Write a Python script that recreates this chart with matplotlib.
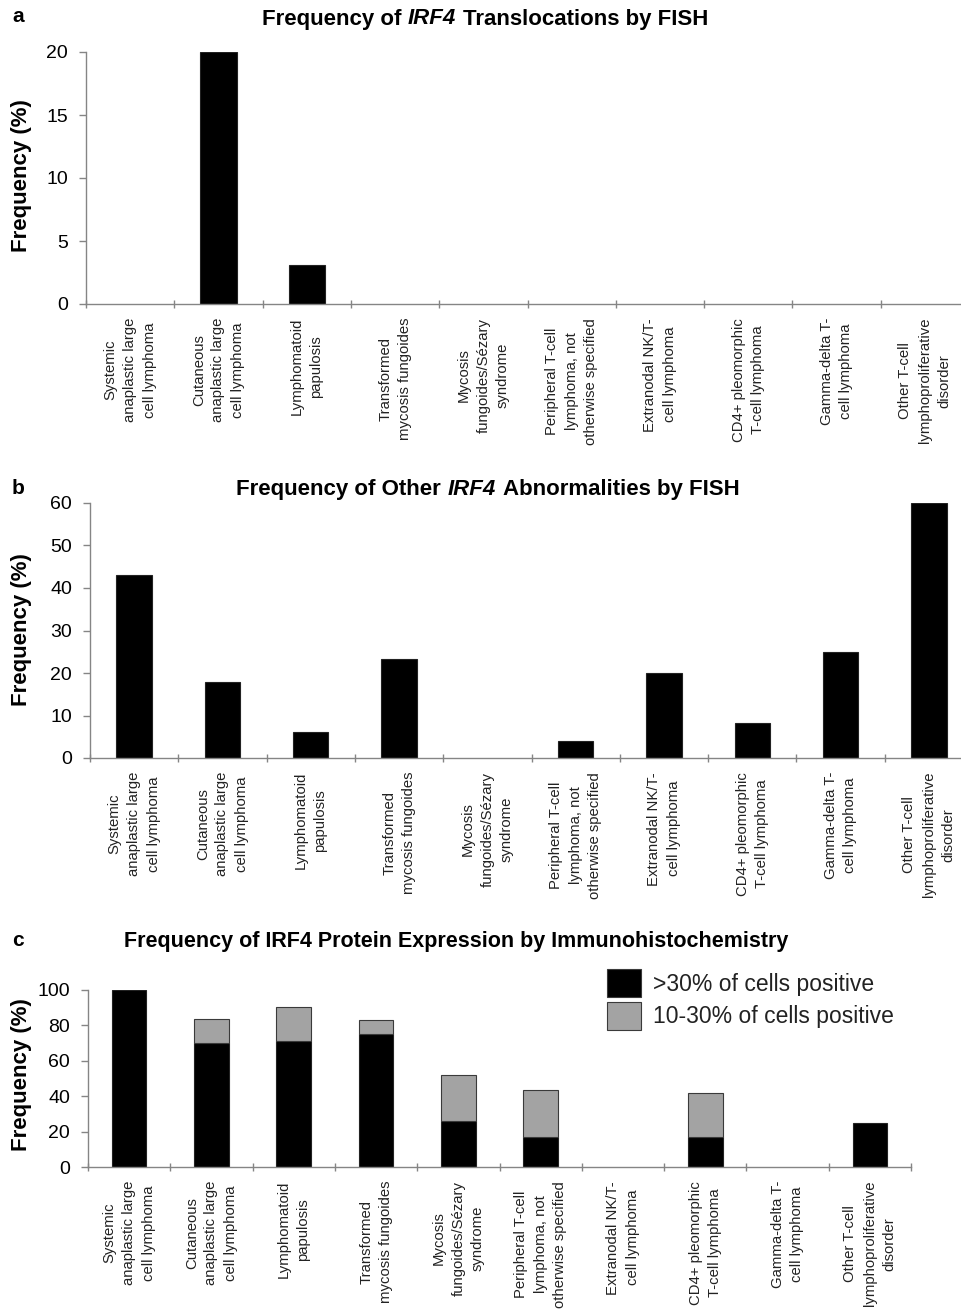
import matplotlib
matplotlib.use("Agg")
import matplotlib.pyplot as plt
from matplotlib import font_manager

# ---------------- data ----------------
categories = [
    "Systemic\nanaplastic large\ncell lymphoma",
    "Cutaneous\nanaplastic large\ncell lymphoma",
    "Lymphomatoid\npapulosis",
    "Transformed\nmycosis fungoides",
    "Mycosis\nfungoides/Sézary\nsyndrome",
    "Peripheral T-cell\nlymphoma, not\notherwise specified",
    "Extranodal NK/T-\ncell lymphoma",
    "CD4+ pleomorphic\nT-cell lymphoma",
    "Gamma-delta T-\ncell lymphoma",
    "Other T-cell\nlymphoproliferative\ndisorder",
]
translocations = [0, 20, 3.1, 0, 0, 0, 0, 0, 0, 0]
other_abnormalities = [43, 17.8, 6.2, 23.2, 0, 4.1, 20, 8.3, 25, 60]
ihc_over30 = [100, 70, 71, 75, 26, 17.2, 0, 16.8, 0, 25]
ihc_10to30 = [0, 13.8, 19.2, 8.2, 26, 26.2, 0, 24.9, 0, 0]
legend_labels = [">30% of cells positive", "10-30% of cells positive"]
yticks_a = [0, 5, 10, 15, 20]
yticks_b = [0, 10, 20, 30, 40, 50, 60]
yticks_c = [0, 20, 40, 60, 80, 100]

# ---------------- style ----------------
names = {f.name for f in font_manager.fontManager.ttflist}
FONT = "Liberation Sans" if "Liberation Sans" in names else "DejaVu Sans"
plt.rcParams["font.family"] = [FONT, "DejaVu Sans"]

W, H = 961, 1312
fig = plt.figure(figsize=(W / 100, H / 100), dpi=100)
fig.patch.set_facecolor("white")
AXC = "#858585"


def fx(px):
    return px / W


def fy(py):
    return 1 - py / H


def make_axes(left, right, top, bottom):
    return fig.add_axes([fx(left), fy(bottom), fx(right) - fx(left), fy(top) - fy(bottom)])


def style_axes(ax, ymax, yticks):
    ax.set_xlim(-0.5, 9.5)
    ax.set_ylim(0, ymax)
    for s in ["top", "right"]:
        ax.spines[s].set_visible(False)
    for s in ["left", "bottom"]:
        ax.spines[s].set_color(AXC)
        ax.spines[s].set_linewidth(1.0)
    ax.set_yticks(yticks)
    ax.tick_params(axis="y", direction="out", length=5, width=1, color=AXC,
                   labelsize=14, pad=8)
    ax.set_xticks(range(len(categories)))
    ax.set_xticklabels(categories, rotation=90, ha="center", va="top",
                       multialignment="center", fontsize=10.7, linespacing=1.5,
                       color="#222222")
    ax.tick_params(axis="x", which="major", length=0, pad=10)
    ax.set_xticks([i - 0.5 for i in range(len(categories) + 1)], minor=True)
    ax.tick_params(axis="x", which="minor", direction="inout", length=6,
                   width=1, color=AXC)
    ax.set_facecolor("none")


def edges(vals, color):
    return [color if v > 0 else "none" for v in vals]


# Panel a
axa = make_axes(86, 969, 52, 304)
axa.bar(range(10), translocations, width=0.41, color="black",
        edgecolor=edges(translocations, "#222222"), linewidth=0.8)
style_axes(axa, 20, yticks_a)

# Panel b
axb = make_axes(90, 973, 503, 758)
axb.bar(range(10), other_abnormalities, width=0.40, color="black",
        edgecolor=edges(other_abnormalities, "#222222"), linewidth=0.8)
style_axes(axb, 60, yticks_b)

# Panel c
axc = make_axes(88, 911, 990, 1167)
b1 = axc.bar(range(10), ihc_over30, width=0.42, color="black",
             edgecolor=edges(ihc_over30, "#222222"), linewidth=0.8,
             label=legend_labels[0])
b2 = axc.bar(range(10), ihc_10to30, bottom=ihc_over30, width=0.42,
             color="#a3a3a3", edgecolor=edges(ihc_10to30, "#3a3a3a"),
             linewidth=0.8, label=legend_labels[1])
style_axes(axc, 100, yticks_c)
leg = axc.legend(handles=[b1, b2], labels=legend_labels, loc="upper left",
                 bbox_to_anchor=(fx(607), fy(969)), bbox_transform=fig.transFigure,
                 frameon=False, fontsize=16.5, handlelength=1.5, handleheight=1.5,
                 handletextpad=0.5, labelspacing=0.2, borderpad=0, borderaxespad=0)
for p in leg.get_patches():
    p.set_edgecolor("#3a3a3a")
    p.set_linewidth(0.8)
for t in leg.get_texts():
    t.set_color("#222222")

# y labels
for yc in (176, 630, 1075):
    fig.text(fx(22), fy(yc), "Frequency (%)", rotation=90, ha="center",
             va="center", fontsize=16, fontweight="bold")

# panel letters
for letter, yc in (("a", 17), ("b", 488), ("c", 940)):
    fig.text(fx(18), fy(yc), letter, ha="center", va="center", fontsize=15,
             fontweight="bold")


# titles with italic gene names
def mixed_title(parts, xc, yc, size=16):
    texts = [fig.text(0, fy(yc), s, fontsize=size, fontweight="bold", style=st,
                      ha="left", va="center") for s, st in parts]
    r = fig.canvas.get_renderer()
    widths = [t.get_window_extent(r).width for t in texts]
    gap = 0.3 * size * 100 / 72
    total = sum(widths) + gap * (len(widths) - 1)
    x = xc - total / 2
    for t, w in zip(texts, widths):
        t.set_x(fx(x))
        x += w + gap


mixed_title([("Frequency of", "normal"), ("IRF4", "italic"),
             ("Translocations by FISH", "normal")], 485, 19)
mixed_title([("Frequency of Other", "normal"), ("IRF4", "italic"),
             ("Abnormalities by FISH", "normal")], 488, 489)
mixed_title([("Frequency of IRF4 Protein Expression by Immunohistochemistry",
              "normal")], 456, 941, size=15.5)

fig.savefig("out.png", dpi=100)
